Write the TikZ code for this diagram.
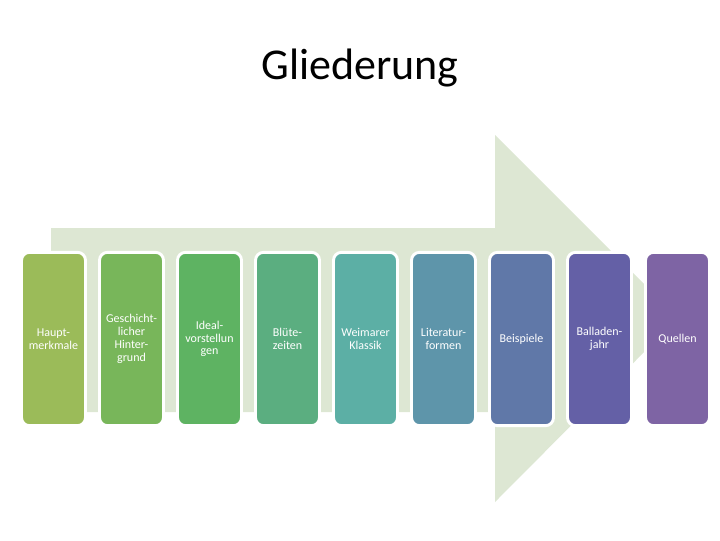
\documentclass[tikz,border=0pt]{standalone}
\usepackage{fontspec}
\setmainfont{Carlito}
\usetikzlibrary{positioning}
\definecolor{ArrowGreen}{RGB}{221, 231, 211}
\definecolor{BoxA}{RGB}{155, 187, 89}
\definecolor{BoxB}{RGB}{120, 182, 90}
\definecolor{BoxC}{RGB}{94, 179, 98}
\definecolor{BoxD}{RGB}{91, 174, 128}
\definecolor{BoxE}{RGB}{92, 175, 165}
\definecolor{BoxF}{RGB}{94, 149, 170}
\definecolor{BoxG}{RGB}{96, 120, 168}
\definecolor{BoxH}{RGB}{100, 96, 166}
\definecolor{BoxI}{RGB}{126, 100, 164}

\tikzset{
  topicbox/.style={draw=white, line width=2.2pt, rounded corners=6pt,
    minimum width=48pt, minimum height=130pt, inner sep=1pt,
    text=white, align=center, text width=44pt,
    font=\fontsize{9}{9.6}\selectfont}
}

\begin{document}
\begin{tikzpicture}[x=0.75pt, y=-0.75pt]
    \useasboundingbox (0,0) rectangle (720,540);

    % Title
    \node[font=\fontsize{33}{38}\selectfont] (title) at (360,68) {Gliederung};

    % Arrow
    \fill[ArrowGreen] (51,228) -- (495,228) -- (495,135) -- (678,318)
      -- (495,502) -- (495,412) -- (51,412) -- cycle;

    % Boxes
    \foreach \name/\col/\txt [count=\i from 0] in {
        hm/BoxA/{Haupt-\\merkmale},
        gh/BoxB/{Geschicht-\\licher\\Hinter-\\grund},
        iv/BoxC/{Ideal-\\vorstellun\\gen},
        bz/BoxD/{Blüte-\\zeiten},
        wk/BoxE/{Weimarer\\Klassik},
        lf/BoxF/{Literatur-\\formen},
        bs/BoxG/{Beispiele},
        bj/BoxH/{Balladen-\\jahr},
        qu/BoxI/{Quellen}} {
      \node[topicbox, fill=\col] (\name) at (53.5+78*\i,339) {\txt};
    }
\end{tikzpicture}
\end{document}
